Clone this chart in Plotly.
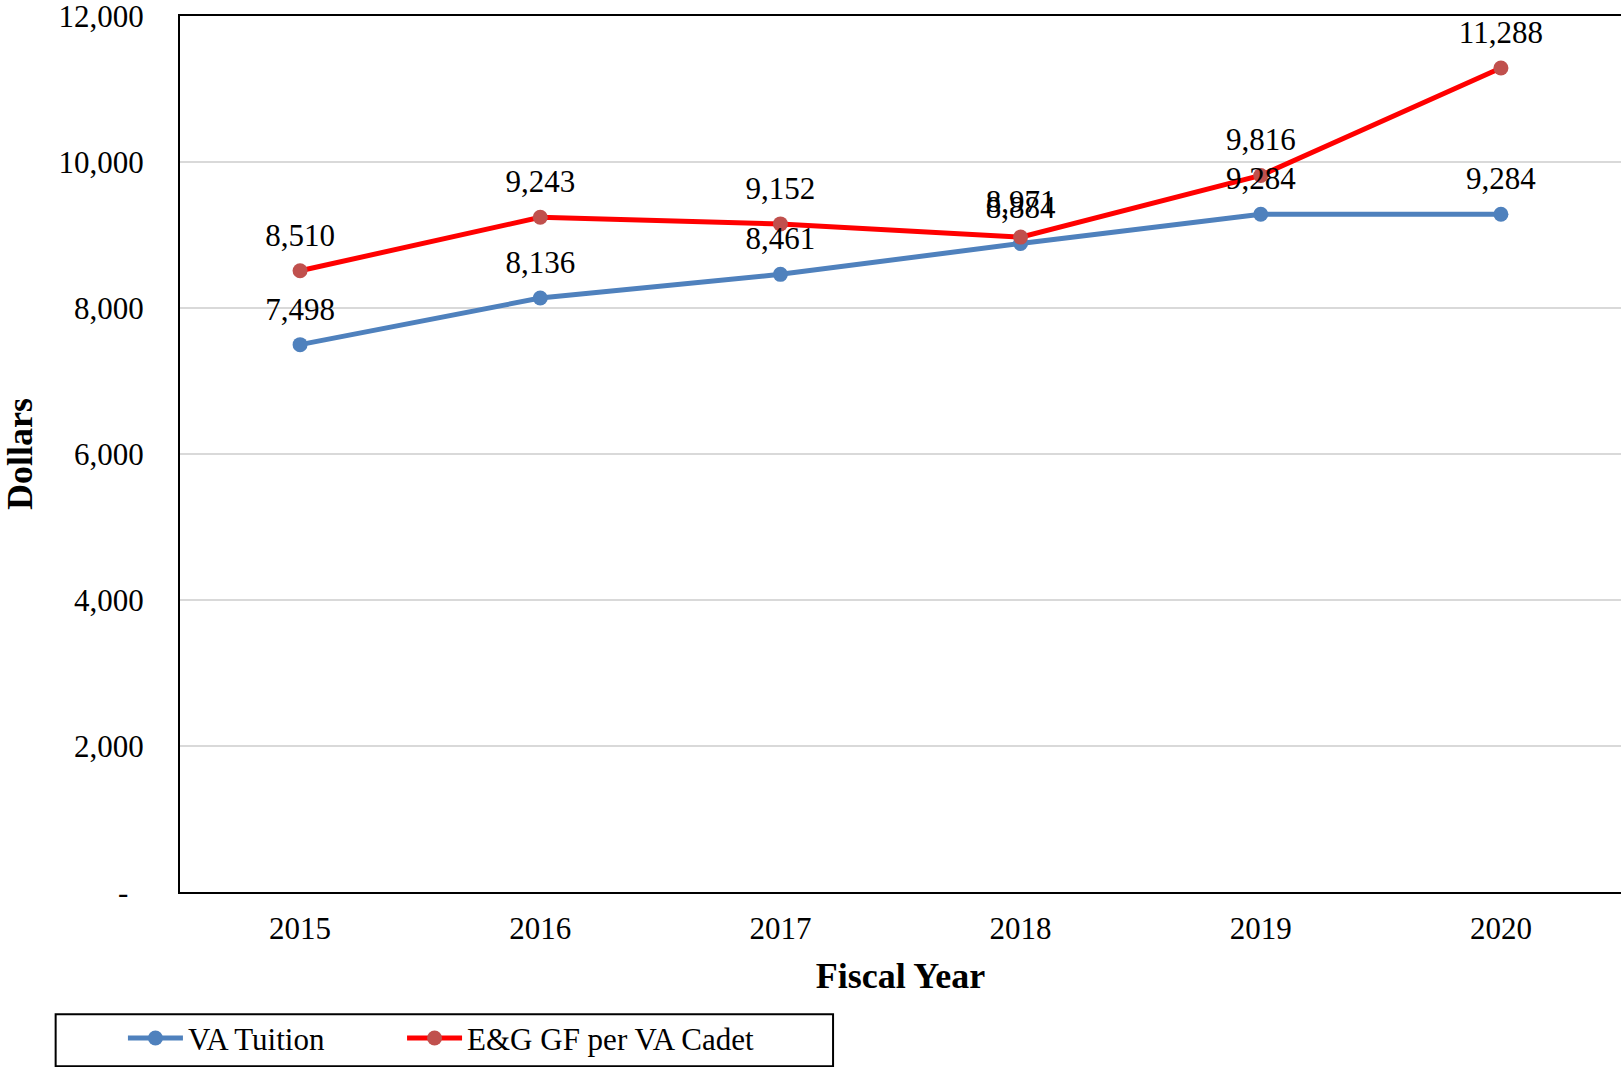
import plotly.graph_objects as go

years = ["2015", "2016", "2017", "2018", "2019", "2020"]
va_tuition = [7498, 8136, 8461, 8884, 9284, 9284]
eg_gf_per_cadet = [8510, 9243, 9152, 8971, 9816, 11288]
y_tickvals = [0, 2000, 4000, 6000, 8000, 10000, 12000]
y_ticktext = ["-\u00a0\u00a0", "2,000", "4,000", "6,000", "8,000", "10,000", "12,000"]

FONT = "Liberation Serif, Times New Roman, serif"
LFONT = dict(family=FONT, size=31, color="black")

fig = go.Figure()
series = [
    ("VA Tuition", va_tuition, "#4f81bd", "#4f81bd", "legend"),
    ("E&G GF per VA Cadet", eg_gf_per_cadet, "#ff0000", "#c0504d", "legend2"),
]
for name, vals, lc, mc, lg in series:
    fig.add_trace(go.Scatter(
        x=years, y=vals, name=name, legend=lg,
        mode="lines+markers",
        line=dict(color=lc, width=5),
        marker=dict(color=mc, size=15),
    ))
for name, vals, lc, mc, lg in series:
    fig.add_trace(go.Scatter(
        x=years, y=vals, showlegend=False, hoverinfo="skip",
        mode="markers+text",
        marker=dict(color="rgba(0,0,0,0)", size=26),
        text=[f"{v:,}" for v in vals], textposition="top center",
        textfont=LFONT, cliponaxis=False,
    ))

fig.update_layout(
    width=1621, height=1067,
    margin=dict(l=180, r=0, t=16, b=175, pad=0, autoexpand=False),
    paper_bgcolor="white", plot_bgcolor="white",
    font=LFONT,
    showlegend=True,
    legend=dict(
        orientation="h", x=-0.0396, xanchor="left", y=-0.167, yanchor="middle",
        bgcolor="rgba(0,0,0,0)", borderwidth=0, font=LFONT, itemwidth=55,
    ),
    legend2=dict(
        orientation="h", x=0.1541, xanchor="left", y=-0.167, yanchor="middle",
        bgcolor="rgba(0,0,0,0)", borderwidth=0, font=LFONT, itemwidth=55,
    ),
    shapes=[dict(
        type="rect", xref="paper", yref="paper",
        x0=-0.0863, x1=0.4532, y0=-0.199, y1=-0.1396,
        line=dict(color="black", width=2), fillcolor="rgba(0,0,0,0)",
    )],
)

fig.update_xaxes(
    type="category", range=[-0.5, 5.5],
    showline=True, linecolor="black", linewidth=2, mirror=True,
    showgrid=False, ticks="", ticklabelstandoff=8,
    tickfont=LFONT,
    title=dict(text="<b>Fiscal Year</b>", font=dict(family=FONT, size=36, color="black"), standoff=18),
)
fig.update_yaxes(
    range=[0, 12000], tickvals=y_tickvals, ticktext=y_ticktext,
    showline=True, linecolor="black", linewidth=2, mirror=False,
    showgrid=True, gridcolor="#d9d9d9", gridwidth=2,
    zeroline=False, ticks="", ticklabelstandoff=28, ticklabeloverflow="allow",
    tickfont=LFONT,
    title=dict(text="<b>Dollars</b>", font=dict(family=FONT, size=36, color="black"), standoff=38),
)

# remove the default 8px page margin so the figure fills the window exactly
fig.write_html("out.html", config={"displayModeBar": False},
               post_script="document.body.style.margin='0';")
